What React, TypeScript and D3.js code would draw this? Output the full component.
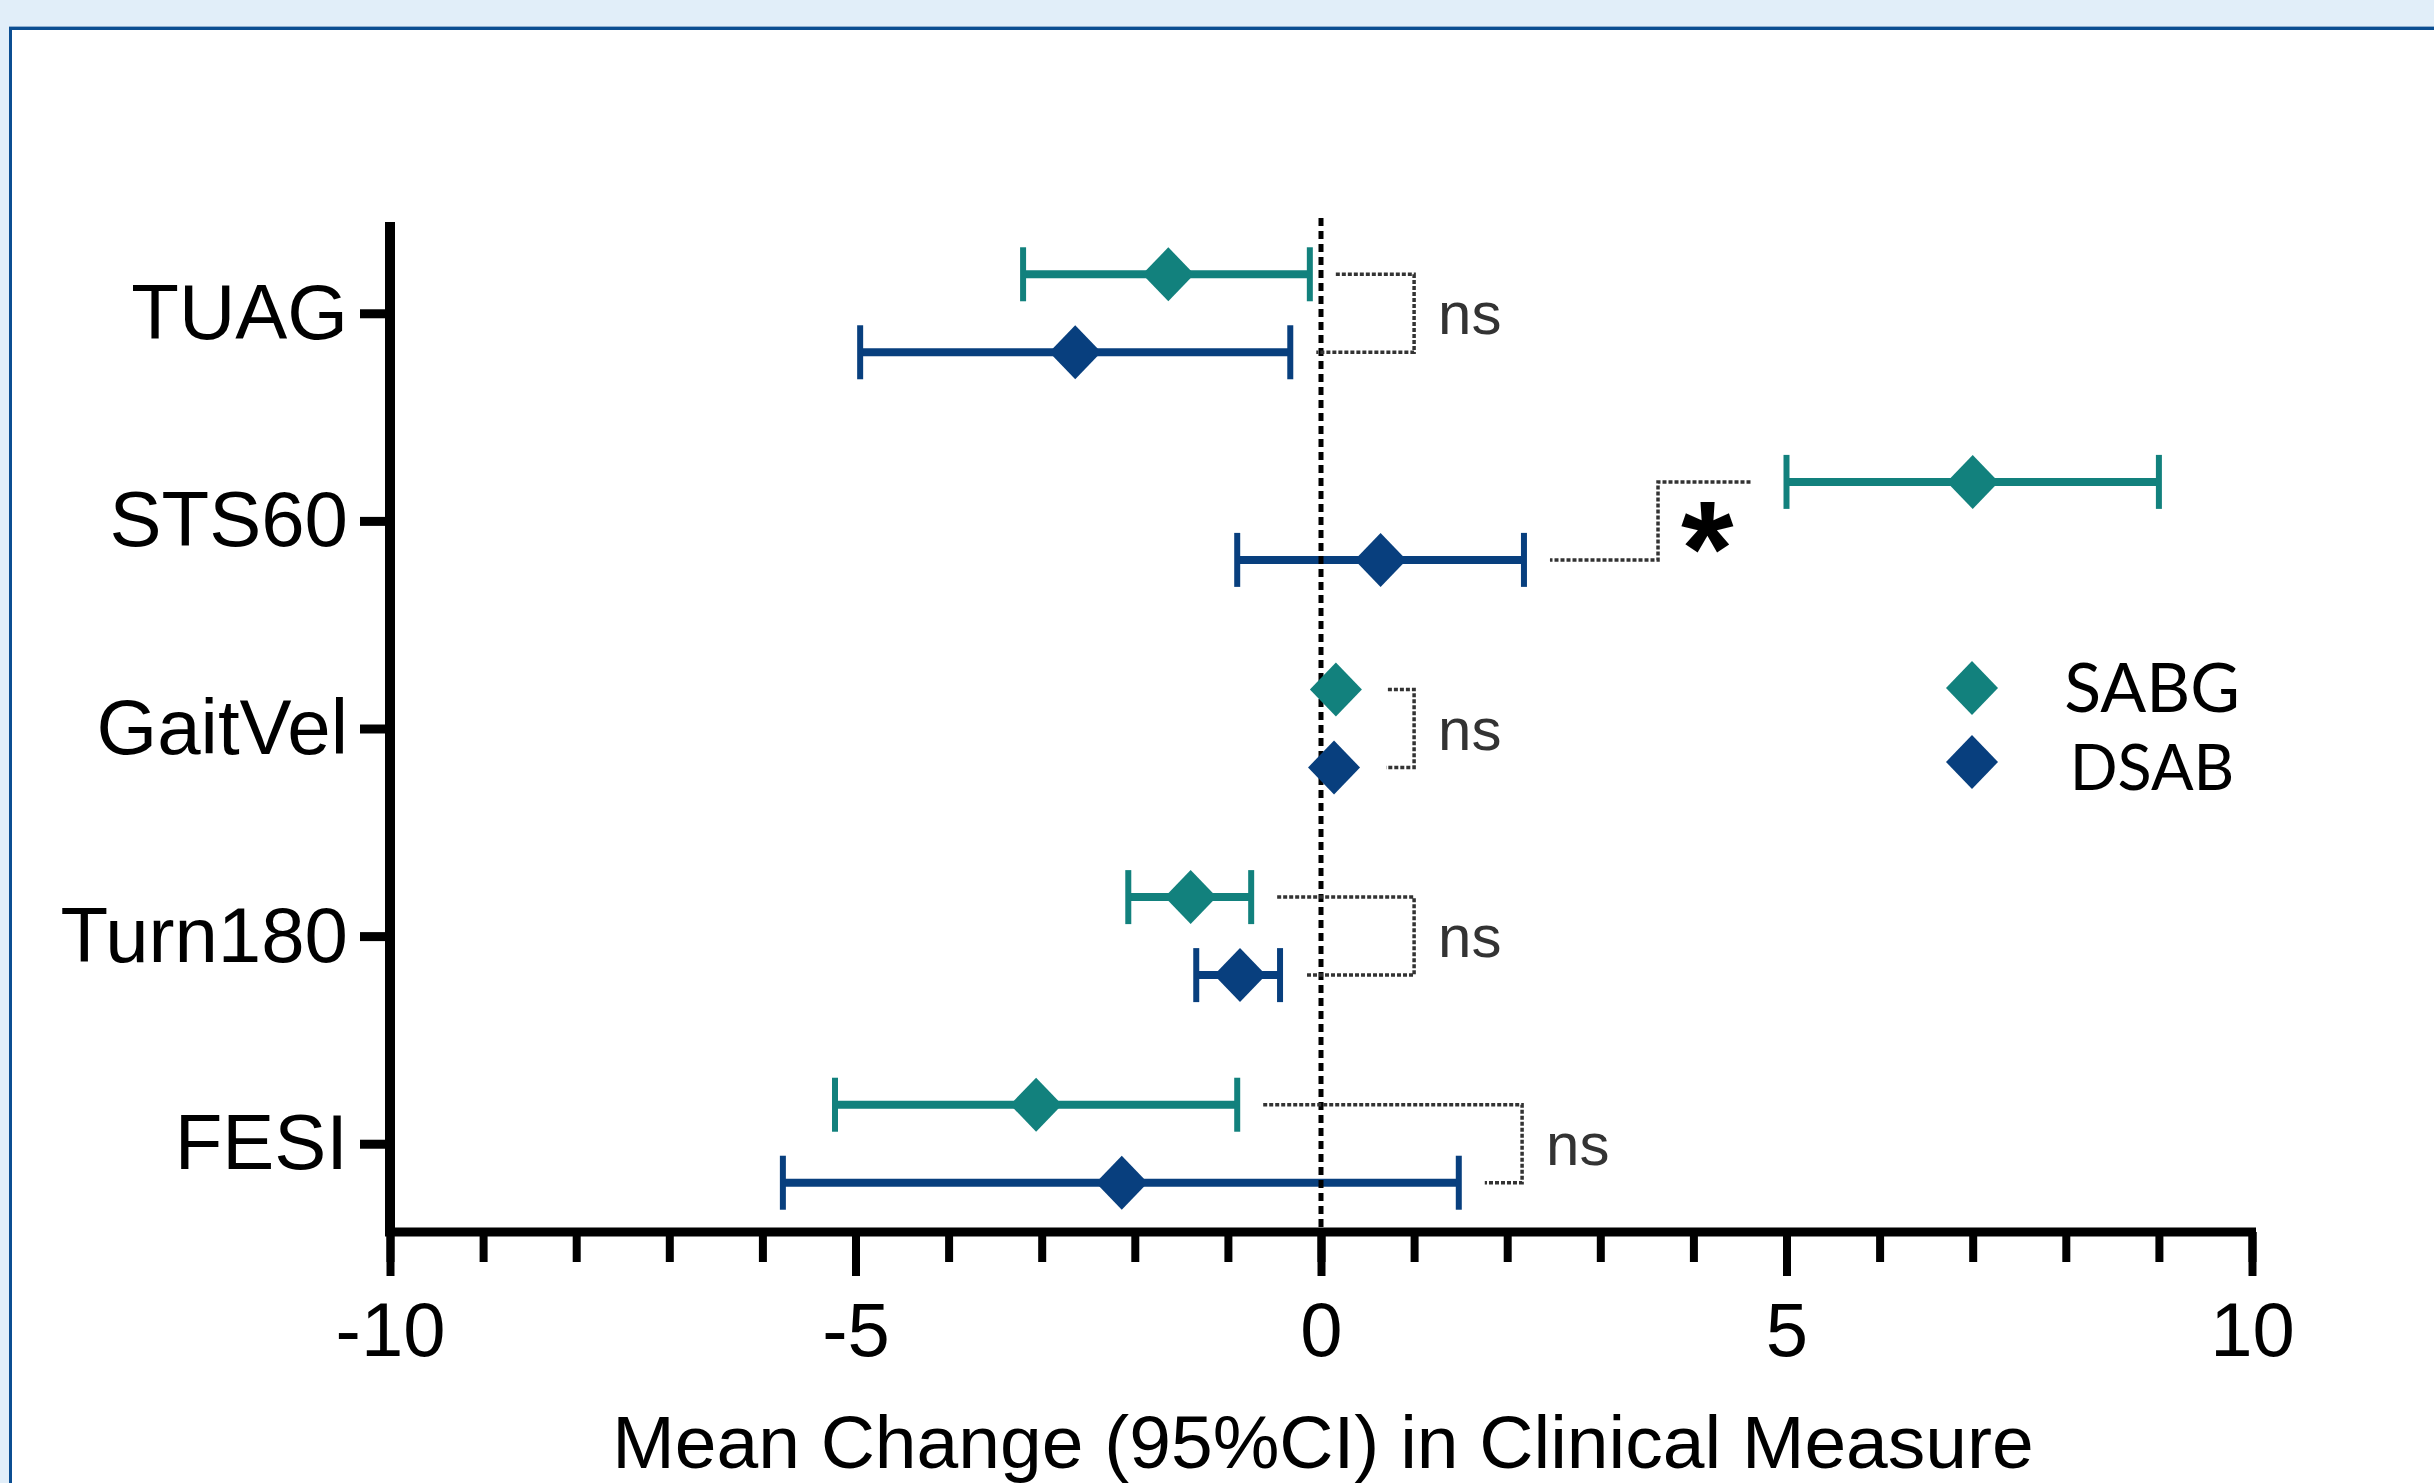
import React, { useRef, useEffect } from 'react';
import * as d3 from 'd3';

// measures (top to bottom) and the two groups
const categories = ['TUAG', 'STS60', 'GaitVel', 'Turn180', 'FESI'];
const groups = ['SABG', 'DSAB'];

// mean change and 95% CI
const sabgMean = [-1.64, 7.0, 0.16, -1.4, -3.06];
const sabgLo = [-3.2, 5.0, 0.06, -2.07, -5.22];
const sabgHi = [-0.12, 9.0, 0.26, -0.75, -0.9];

const dsabMean = [-2.64, 0.64, 0.14, -0.87, -2.14];
const dsabLo = [-4.95, -0.9, 0.05, -1.34, -5.78];
const dsabHi = [-0.33, 2.18, 0.23, -0.44, 1.48];

// significance brackets (x position in data units)
const sigLabels = ['ns', '*', 'ns', 'ns', 'ns'];
const bracketAt = [1.0, 3.62, 1.0, 1.0, 2.16];

const xTicks = [-10, -5, 0, 5, 10];
const xMinorTicks = d3.range(-10, 11, 1);

const colors = { SABG: '#12817D', DSAB: '#083F7E' };

const W = 2434;
const H = 1483;
const FONT = "'Liberation Sans', Arial, sans-serif";

const diamondPath = (hw, hh) => `M0,${-hh}L${hw},0L0,${hh}L${-hw},0Z`;

export default function App() {
    const svgRef = useRef(null);

    useEffect(() => {
        const svg = d3.select(svgRef.current);
        svg.selectAll('*').remove();

        // page frame
        svg.append('rect').attr('width', W).attr('height', H).attr('fill', '#fff');
        svg.append('rect').attr('width', W).attr('height', 27).attr('fill', '#E1EEF9');
        svg.append('rect').attr('width', 9).attr('height', H).attr('fill', '#E1EEF9');
        svg.append('rect').attr('x', 9).attr('y', 26).attr('width', W - 9).attr('height', 1).attr('fill', '#8FAFD0');
        svg.append('rect').attr('x', 9).attr('y', 27).attr('width', W - 9).attr('height', 3).attr('fill', '#0B4E92');
        svg.append('rect').attr('x', 9).attr('y', 27).attr('width', 3).attr('height', H - 27).attr('fill', '#0B4E92');

        const x = d3.scaleLinear().domain([-10, 10]).range([390, 2252]);
        const y = d3.scalePoint().domain(categories).range([224, 1233]).padding(0.43);
        const yGroup = d3.scalePoint().domain(groups).range([-39, 39]);

        const axisY = 1232;
        const yTop = 222;
        const hw = 26, hh = 27;

        const rows = categories.map((cat, i) => ({
            cat,
            i,
            items: [
                { group: 'SABG', mean: sabgMean[i], lo: sabgLo[i], hi: sabgHi[i] },
                { group: 'DSAB', mean: dsabMean[i], lo: dsabLo[i], hi: dsabHi[i] },
            ],
        }));

        // error bars
        const bars = svg.append('g');
        rows.forEach(r => {
            r.items.forEach(d => {
                const cy = y(r.cat) + yGroup(d.group);
                const x0 = x(d.lo), x1 = x(d.hi);
                if ((x1 - x0) / 2 < hw) return; // hidden behind the symbol
                const c = colors[d.group];
                bars.append('line').attr('x1', x0).attr('x2', x1).attr('y1', cy).attr('y2', cy)
                    .attr('stroke', c).attr('stroke-width', 8);
                [x0, x1].forEach(cx => {
                    bars.append('line').attr('x1', cx).attr('x2', cx)
                        .attr('y1', cy - hh).attr('y2', cy + hh)
                        .attr('stroke', c).attr('stroke-width', 6);
                });
            });
        });

        // zero reference line
        svg.append('line')
            .attr('x1', x(0)).attr('x2', x(0))
            .attr('y1', 218).attr('y2', axisY - 4)
            .attr('stroke', '#000').attr('stroke-width', 5)
            .attr('stroke-dasharray', '8,5');

        // brackets
        const brackets = svg.append('g');
        rows.forEach(r => {
            const bx = x(bracketAt[r.i]);
            const ends = r.items.map(d => {
                const half = (x(d.hi) - x(d.lo)) / 2 < hw;
                const left = half ? x(d.mean) - hw : x(d.lo);
                const right = half ? x(d.mean) + hw : x(d.hi);
                return right < bx ? right + 26 : left - 36;
            });
            const y1 = y(r.cat) + yGroup('SABG');
            const y2 = y(r.cat) + yGroup('DSAB');
            const p = d3.path();
            p.moveTo(ends[0], y1);
            p.lineTo(bx, y1);
            p.lineTo(bx, y2);
            p.lineTo(ends[1], y2);
            brackets.append('path').attr('d', p.toString())
                .attr('fill', 'none').attr('stroke', '#333')
                .attr('stroke-width', 3.5).attr('stroke-dasharray', '4,2');

            const label = sigLabels[r.i];
            const star = label === '*';
            brackets.append('text')
                .attr('x', bx + (star ? 23 : 24))
                .attr('y', (y1 + y2) / 2)
                .attr('dy', star ? '0.55em' : '0.35em')
                .attr('font-family', FONT)
                .attr('font-size', star ? 135 : 60)
                .attr('font-weight', star ? 'bold' : 'normal')
                .attr('fill', star ? '#000' : '#333')
                .text(label);
        });

        // diamonds
        const pts = svg.append('g');
        rows.forEach(r => {
            r.items.forEach(d => {
                pts.append('path')
                    .attr('d', diamondPath(hw, hh))
                    .attr('transform', `translate(${x(d.mean)},${y(r.cat) + yGroup(d.group)})`)
                    .attr('fill', colors[d.group]);
            });
        });

        // x axis: minor then major ticks
        const gMinor = svg.append('g').attr('transform', `translate(0,${axisY})`)
            .call(d3.axisBottom(x).tickValues(xMinorTicks).tickSize(30).tickFormat(() => ''));
        gMinor.select('.domain').remove();
        gMinor.selectAll('.tick line').attr('stroke', '#000').attr('stroke-width', 8);

        const gMajor = svg.append('g').attr('transform', `translate(0,${axisY})`)
            .call(d3.axisBottom(x).tickValues(xTicks).tickSize(44).tickPadding(26).tickFormat(d => String(d)));
        gMajor.select('.domain').remove();
        gMajor.attr('font-family', FONT).attr('font-size', 76);
        gMajor.selectAll('.tick line').attr('stroke', '#000').attr('stroke-width', 8);
        gMajor.selectAll('.tick text').attr('fill', '#000');

        svg.append('line')
            .attr('x1', x(-10) - 5).attr('x2', x(10) + 4)
            .attr('y1', axisY).attr('y2', axisY)
            .attr('stroke', '#000').attr('stroke-width', 9);

        // y axis
        const gy = svg.append('g').attr('transform', `translate(${x(-10)},0)`)
            .call(d3.axisLeft(y).tickSize(30).tickPadding(12));
        gy.select('.domain').remove();
        gy.attr('font-family', FONT).attr('font-size', 78);
        gy.selectAll('.tick line').attr('stroke', '#000').attr('stroke-width', 9);
        gy.selectAll('.tick text').attr('fill', '#000');

        svg.append('line')
            .attr('x1', x(-10)).attr('x2', x(-10))
            .attr('y1', yTop).attr('y2', axisY + 4)
            .attr('stroke', '#000').attr('stroke-width', 10);

        // axis title
        svg.append('text')
            .attr('x', x(0) + 2).attr('y', 1468)
            .attr('text-anchor', 'middle')
            .attr('font-family', FONT).attr('font-size', 75)
            .attr('fill', '#000')
            .text('Mean Change (95%CI) in Clinical Measure');

        // legend
        const legend = svg.append('g');
        const legendRows = [
            { group: 'SABG', cy: 688, ty: 712, size: 68 },
            { group: 'DSAB', cy: 762, ty: 790, size: 63 },
        ];
        legendRows.forEach(l => {
            legend.append('path')
                .attr('d', diamondPath(hw, hh))
                .attr('transform', `translate(1972,${l.cy})`)
                .attr('fill', colors[l.group]);
            legend.append('text')
                .attr('x', 2152).attr('y', l.ty)
                .attr('text-anchor', 'middle')
                .attr('font-family', "Lato, 'Open Sans', sans-serif")
                .attr('font-size', l.size)
                .attr('fill', '#000')
                .text(l.group);
        });
    }, []);

    return (
        <svg
            ref={svgRef}
            width={W}
            height={H}
            style={{ position: 'absolute', left: 0, top: 0, display: 'block' }}
        />
    );
}
